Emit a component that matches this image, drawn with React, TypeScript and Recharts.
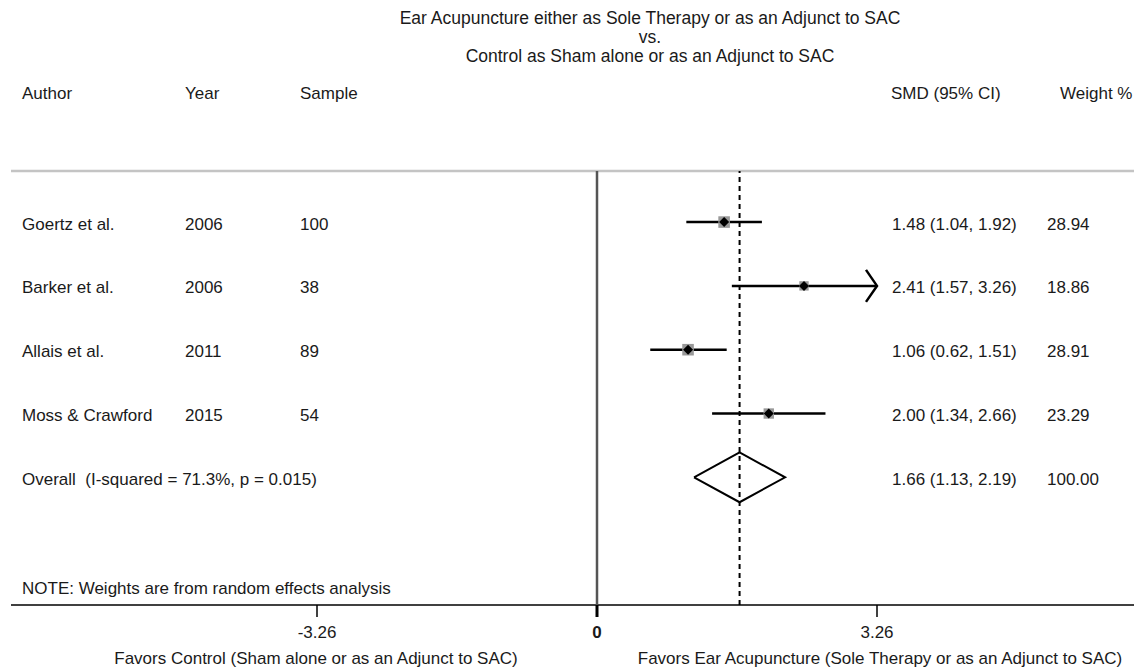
import React from 'react'
import { ComposedChart, XAxis, YAxis, Scatter, ReferenceLine, Customized } from 'recharts'

const authors = ['Goertz et al.', 'Barker et al.', 'Allais et al.', 'Moss & Crawford']
const years = [2006, 2006, 2011, 2015]
const samples = [100, 38, 89, 54]
const smd = [1.48, 2.41, 1.06, 2.0]
const lower = [1.04, 1.57, 0.62, 1.34]
const upper = [1.92, 3.26, 1.51, 2.66]
const weights = [28.94, 18.86, 28.91, 23.29]

const overallLabel = 'Overall  (I-squared = 71.3%, p = 0.015)'
const overallSmd = 1.66
const overallLower = 1.13
const overallUpper = 2.19
const overallWeight = 100.0

const xTicks = [-3.26, 0, 3.26]
const xMin = -3.26
const xMax = 3.26

const FONT = '"Liberation Sans", Arial, Helvetica, sans-serif'
const TEXT = '#1a1a1a'
const DIAMOND_HALF = 0.39

const fmt = (v: number) => v.toFixed(2)

const studies = authors.map((author, i) => ({
  x: smd[i],
  y: i,
  author,
  year: String(years[i]),
  sample: String(samples[i]),
  ci: `${fmt(smd[i])} (${fmt(lower[i])}, ${fmt(upper[i])})`,
  weight: weights[i],
  lo: lower[i],
  hi: upper[i],
}))

const overallRow = {
  x: overallSmd,
  y: authors.length,
  author: overallLabel,
  year: '',
  sample: '',
  ci: `${fmt(overallSmd)} (${fmt(overallLower)}, ${fmt(overallUpper)})`,
  weight: overallWeight,
}

const tableRows = [...studies, overallRow]
const arrowRows = studies.filter((s) => s.hi >= xMax).map((s) => ({ x: xMax, y: s.y }))
const diamond = [
  { x: overallLower, y: overallRow.y },
  { x: overallSmd, y: overallRow.y - DIAMOND_HALF },
  { x: overallUpper, y: overallRow.y },
  { x: overallSmd, y: overallRow.y + DIAMOND_HALF },
  { x: overallLower, y: overallRow.y },
]

const textProps = { fontFamily: FONT, fontSize: 17, fill: TEXT }

function RowText(props: any) {
  const { cy, payload } = props
  const y = cy + 2
  return (
    <g>
      <text x={22} y={y} dominantBaseline="central" style={{ whiteSpace: 'pre' }} {...textProps}>
        {payload.author}
      </text>
      <text x={185} y={y} dominantBaseline="central" {...textProps}>{payload.year}</text>
      <text x={300} y={y} dominantBaseline="central" {...textProps}>{payload.sample}</text>
      <text x={892} y={y} dominantBaseline="central" {...textProps}>{payload.ci}</text>
      <text x={1047} y={y} dominantBaseline="central" {...textProps}>{fmt(payload.weight)}</text>
    </g>
  )
}

function StudyMarker(props: any) {
  const { cx, cy, payload } = props
  const side = 2.15 * Math.sqrt(payload.weight)
  return (
    <g>
      <rect x={cx - side / 2} y={cy - side / 2} width={side} height={side} fill="#999" />
      <path d={`M${cx - 5},${cy} L${cx},${cy - 5} L${cx + 5},${cy} L${cx},${cy + 5} Z`} fill="#000" />
    </g>
  )
}

function ArrowHead(props: any) {
  const { cx, cy } = props
  return (
    <polyline
      points={`${cx - 11},${cy - 16} ${cx},${cy} ${cx - 11},${cy + 16}`}
      fill="none"
      stroke="#000"
      strokeWidth={2.5}
    />
  )
}

function XTick(props: any) {
  const { x, y, payload } = props
  const isZero = payload.value === 0
  return (
    <g>
      <line x1={x} y1={y} x2={x} y2={y + 12} stroke="#000" strokeWidth={isZero ? 3 : 1.5} />
      <text
        x={x}
        y={y + 27}
        textAnchor="middle"
        dominantBaseline="central"
        {...textProps}
        fontWeight={isZero ? 'bold' : 'normal'}
      >
        {payload.value === 0 ? '0' : payload.value.toFixed(2)}
      </text>
    </g>
  )
}

function Decorations() {
  return (
    <g>
      <text x={650} y={18} textAnchor="middle" dominantBaseline="central" {...textProps} fontSize={17.5}>
        Ear Acupuncture either as Sole Therapy or as an Adjunct to SAC
      </text>
      <text x={650} y={37} textAnchor="middle" dominantBaseline="central" {...textProps} fontSize={17.5}>
        vs.
      </text>
      <text x={650} y={56} textAnchor="middle" dominantBaseline="central" {...textProps} fontSize={17.5}>
        Control as Sham alone or as an Adjunct to SAC
      </text>
      <text x={22} y={93} dominantBaseline="central" {...textProps}>Author</text>
      <text x={185} y={93} dominantBaseline="central" {...textProps}>Year</text>
      <text x={300} y={93} dominantBaseline="central" {...textProps}>Sample</text>
      <text x={891} y={93} dominantBaseline="central" {...textProps}>SMD (95% CI)</text>
      <text x={1060} y={93} dominantBaseline="central" {...textProps}>Weight %</text>
      <line x1={11} y1={171} x2={1134} y2={171} stroke="#c4c4c4" strokeWidth={2.5} />
      <line x1={11} y1={605} x2={1134} y2={605} stroke="#000" strokeWidth={1.5} />
      <text x={22} y={588} dominantBaseline="central" {...textProps}>
        NOTE: Weights are from random effects analysis
      </text>
      <text x={316} y={658} textAnchor="middle" dominantBaseline="central" {...textProps}>
        Favors Control (Sham alone or as an Adjunct to SAC)
      </text>
      <text x={880} y={658} textAnchor="middle" dominantBaseline="central" {...textProps}>
        Favors Ear Acupuncture (Sole Therapy or as an Adjunct to SAC)
      </text>
    </g>
  )
}

export default function App() {
  return (
    <div style={{ position: 'absolute', left: 0, top: 0, width: 1135, height: 669, background: '#fff' }}>
      <ComposedChart
        width={1135}
        height={669}
        margin={{ top: 171, right: 258, bottom: 34, left: 317 }}
      >
        <XAxis
          type="number"
          dataKey="x"
          domain={[xMin, xMax]}
          ticks={xTicks}
          axisLine={false}
          tickLine={false}
          tickSize={0}
          tickMargin={0}
          height={30}
          tick={<XTick />}
          interval={0}
        />
        <YAxis type="number" dataKey="y" domain={[-0.8, 6]} reversed hide width={0} />
        <Customized component={<Decorations />} />
        <ReferenceLine x={0} stroke="#555" strokeWidth={2.5} />
        <ReferenceLine x={overallSmd} stroke="#000" strokeWidth={2} strokeDasharray="5 4" />
        {studies.map((s) => (
          <ReferenceLine
            key={s.author}
            segment={[{ x: s.lo, y: s.y }, { x: s.hi, y: s.y }]}
            stroke="#000"
            strokeWidth={2.5}
          />
        ))}
        <Scatter data={tableRows} dataKey="y" shape={<RowText />} isAnimationActive={false} />
        <Scatter data={studies} dataKey="y" shape={<StudyMarker />} isAnimationActive={false} />
        <Scatter data={arrowRows} dataKey="y" shape={<ArrowHead />} isAnimationActive={false} />
        <Scatter
          data={diamond}
          dataKey="y"
          line={{ stroke: '#000', strokeWidth: 2 }}
          lineJointType="linear"
          shape={() => <g />}
          isAnimationActive={false}
        />
      </ComposedChart>
    </div>
  )
}
